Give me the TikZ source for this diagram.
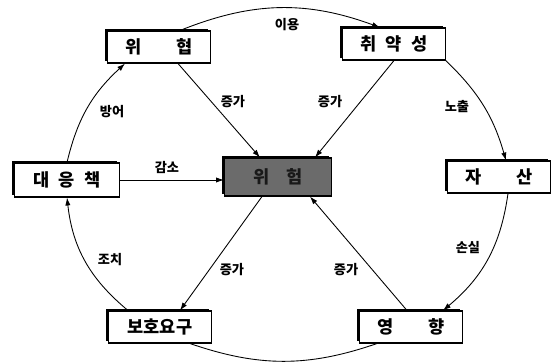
\documentclass[tikz,border=0pt]{standalone}
\usepackage{fontspec}
\setmainfont{Noto Sans CJK KR}
\usetikzlibrary{arrows.meta,shadows}

\begin{document}
\begin{tikzpicture}[
  box/.style={rectangle, draw, fill=white, line width=0.6pt, minimum width=2.05cm, minimum height=0.64cm,
    font=\fontsize{10}{12}\selectfont\bfseries, general shadow={fill=black, shadow xshift=-1.4pt, shadow yshift=1.4pt}},
  lbl/.style={font=\fontsize{7.5}{9}\selectfont\bfseries},
  arr/.style={-{Latex[length=4.5pt,width=3pt]}, line width=0.5pt},
  arc/.style={line width=0.5pt},
]
  \useasboundingbox (0,0) rectangle (11.1,7.24);

  % Boxes
  \node[box] (threat) at (3.18, 6.30) {위\qquad 협};
  \node[box] (vuln) at (7.88, 6.36) {취\hspace{0.55em}약\hspace{0.55em}성};
  \node[box] (asset) at (9.98, 3.70) {자\qquad 산};
  \node[box] (impact) at (8.22, 0.70) {영\qquad 향};
  \node[box] (protect) at (3.20, 0.70) {보호요구};
  \node[box, minimum width=2.1cm, minimum height=0.68cm] (counter) at (1.34, 3.64) {대\hspace{0.55em}응\hspace{0.55em}책};
  \node[box, fill=black!58, text=black!90, minimum width=2.14cm, minimum height=0.76cm] (risk) at (5.56, 3.70) {위\quad 험};

  % Outer cycle
  \draw[arr] ([xshift=0.42cm]threat.north) to[bend left=21] ([xshift=-0.28cm]vuln.north);
  \draw[arr] (vuln.south east) to[bend left=15] ([xshift=0.14cm]asset.north);
  \draw[arr] ([xshift=0.18cm]asset.south) to[bend left=21] ([xshift=0.64cm]impact.north);
  \draw[arc] ([xshift=-0.68cm]impact.south) to[bend left=19] ([xshift=0.6cm]protect.south);
  \draw[arr] ([xshift=-0.64cm]protect.north) to[bend left=22] (counter.south);
  \draw[arr] (counter.north) to[bend left=17] ([xshift=-0.68cm]threat.south);

  % Into and out of the risk box
  \draw[arr] ([xshift=0.38cm]threat.south) -- ([xshift=-0.36cm]risk.north);
  \draw[arr] (vuln.south) -- ([xshift=0.74cm]risk.north);
  \draw[arr] (counter.east) -- (risk.west |- counter.east);
  \draw[arr] ([xshift=-0.32cm]risk.south) -- ([xshift=0.4cm]protect.north);
  \draw[arr] ([xshift=-0.08cm]impact.north) -- ([xshift=0.64cm]risk.south);

  % Labels
  \node[lbl] (l1) at (5.74, 6.74) {이용};
  \node[lbl] (l2) at (9.14, 5.10) {노출};
  \node[lbl] (l3) at (9.36, 2.28) {손실};
  \node[lbl] (l4) at (2.20, 2.04) {조치};
  \node[lbl] (l5) at (2.24, 5.00) {방어};
  \node[lbl] (l6) at (3.34, 3.88) {감소};
  \node[lbl] (l7) at (4.66, 5.20) {증가};
  \node[lbl] (l8) at (6.60, 5.20) {증가};
  \node[lbl] (l9) at (4.64, 1.84) {증가};
  \node[lbl] (l10) at (6.92, 1.84) {증가};
\end{tikzpicture}
\end{document}
